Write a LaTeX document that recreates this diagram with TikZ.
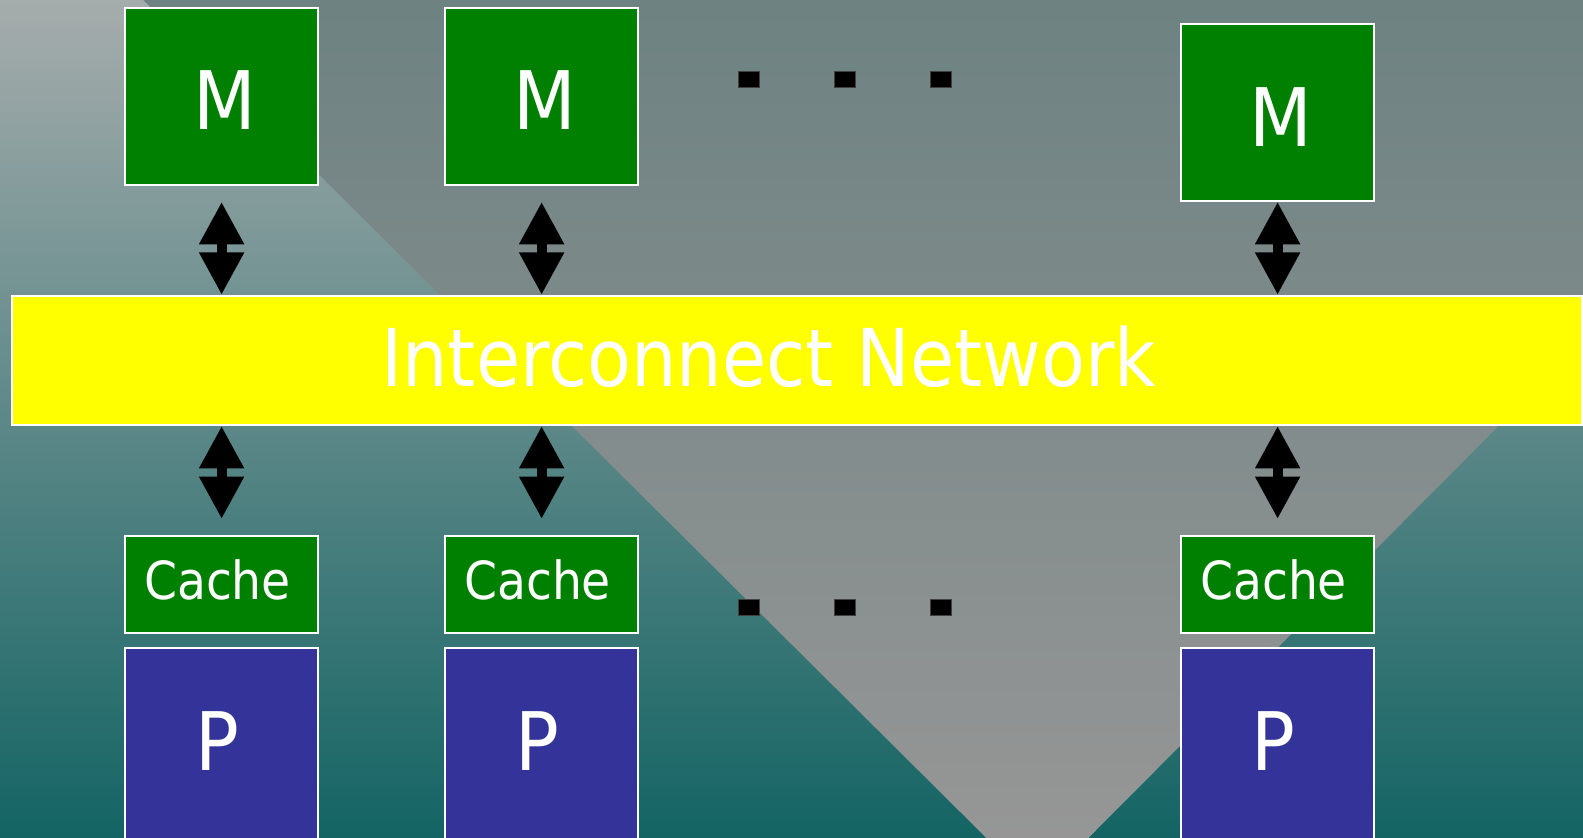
\documentclass[tikz,border=0pt]{standalone}
\usepackage{fontspec}
\setmainfont{DejaVu Sans Condensed}
\usetikzlibrary{arrows.meta}

\definecolor{bgtop}{HTML}{A6ACAC}
\definecolor{bgbot}{HTML}{146464}
\definecolor{wedgetop}{HTML}{6E8282}
\definecolor{wedgebot}{HTML}{969696}
\definecolor{memgreen}{HTML}{008000}
\definecolor{procblue}{HTML}{333399}
\definecolor{netyellow}{HTML}{FFFF00}

\tikzset{
  unitbox/.style={draw=white, line width=2pt, inner sep=0pt,
    minimum width=191pt},
  membox/.style={unitbox, fill=memgreen, minimum height=175pt},
  cachebox/.style={unitbox, fill=memgreen, minimum height=96pt},
  procbox/.style={unitbox, fill=procblue, minimum height=200pt},
  boxtext/.style={text=white, inner sep=0pt},
  mtext/.style={boxtext, font=\fontsize{80}{80}\selectfont,
    xshift=3pt, yshift=-4pt},
  ctext/.style={boxtext, font=\fontsize{52}{52}\selectfont,
    xshift=-4pt, yshift=5pt},
  ptext/.style={boxtext, font=\fontsize{80}{80}\selectfont,
    xshift=-4pt, yshift=8pt},
  netbar/.style={draw=white, line width=2pt, fill=netyellow,
    minimum width=1555pt, minimum height=128pt, inner sep=0pt},
  nettext/.style={text=white, inner sep=0pt, font=\fontsize{79}{79}\selectfont},
  dotmark/.style={draw=black!75, fill=black, line width=0.8pt,
    minimum width=21pt, minimum height=16pt, inner sep=0pt},
  biarrow/.style={line width=10pt,
    {Triangle[length=42pt,width=42pt]}-{Triangle[length=42pt,width=42pt]}},
}

\begin{document}
\begin{tikzpicture}[x=1pt,y=-1pt]
  \useasboundingbox (0,0) rectangle (1568,830);

  % backdrop: vertical fade and the grey wedge
  \shade[top color=bgtop, bottom color=bgbot] (0,0) rectangle (1568,830);
  \shade[top color=wedgetop, bottom color=wedgebot]
    (142,0) -- (977,830) -- (1078,830) -- (1568,338) -- (1568,0) -- cycle;

  % memory modules
  \node[membox, label={[mtext]center:M}] (m1) at (219.5,95.5) {};
  \node[membox, label={[mtext]center:M}] (m2) at (536.5,95.5) {};
  \node[membox, label={[mtext]center:M}] (m3) at (1265.5,111.5) {};

  % interconnect
  \node[netbar] (net) at (789.5,357) {};
  \node[nettext] (netlabel) at (761.5,353) {Interconnect Network};

  % caches and processors
  \node[cachebox, label={[ctext]center:Cache}] (c1) at (219.5,579) {};
  \node[cachebox, label={[ctext]center:Cache}] (c2) at (536.5,579) {};
  \node[cachebox, label={[ctext]center:Cache}] (c3) at (1265.5,579) {};
  \node[procbox, label={[ptext]center:P}] (p1) at (219.5,742) {};
  \node[procbox, label={[ptext]center:P}] (p2) at (536.5,742) {};
  \node[procbox, label={[ptext]center:P}] (p3) at (1265.5,742) {};

  % ellipsis marks
  \node[dotmark] (dt1) at (742,79) {};
  \node[dotmark] (dt2) at (837,79) {};
  \node[dotmark] (dt3) at (932,79) {};
  \node[dotmark] (db1) at (742,602) {};
  \node[dotmark] (db2) at (837,602) {};
  \node[dotmark] (db3) at (932,602) {};

  % memory <-> network links
  \draw[biarrow, shorten <=16pt] (m1.south) -- (m1.south |- net.north);
  \draw[biarrow, shorten <=16pt] (m2.south) -- (m2.south |- net.north);
  \draw[biarrow] (m3.south) -- (m3.south |- net.north);

  % network <-> cache links
  \draw[biarrow, shorten >=16pt] (c1.north |- net.south) -- (c1.north);
  \draw[biarrow, shorten >=16pt] (c2.north |- net.south) -- (c2.north);
  \draw[biarrow, shorten >=16pt] (c3.north |- net.south) -- (c3.north);
\end{tikzpicture}
\end{document}
